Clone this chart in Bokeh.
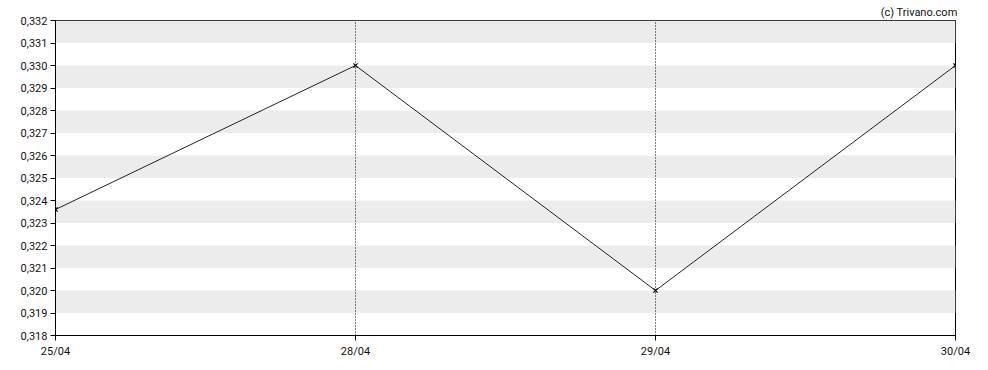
from bokeh.plotting import figure
from bokeh.models import FixedTicker, CustomJSTickFormatter
from bokeh.embed import file_html
from bokeh.resources import INLINE

dates = ["25/04", "28/04", "29/04", "30/04"]
prices = [0.3236, 0.330, 0.320, 0.330]
y_ticks = [0.318, 0.319, 0.320, 0.321, 0.322, 0.323, 0.324, 0.325,
           0.326, 0.327, 0.328, 0.329, 0.330, 0.331, 0.332]

xs = list(range(len(dates)))

FONT = "Roboto"

p = figure(width=988, height=370, output_backend="svg", toolbar_location=None,
           x_range=(0, len(dates) - 1), y_range=(y_ticks[0], y_ticks[-1]),
           min_border_left=55, min_border_right=33, min_border_top=20, min_border_bottom=35,
           title="(c) Trivano.com")
p.title.align = "right"
p.title.text_font = FONT
p.title.text_font_size = "11px"
p.title.text_font_style = "normal"
p.title.text_color = "#111111"
p.title.standoff = 3
p.title.offset = -2

p.background_fill_color = "white"
p.border_fill_color = "white"
p.outline_line_color = "black"
p.outline_line_width = 1

# y grid as alternating bands
p.yaxis.ticker = FixedTicker(ticks=y_ticks)
p.ygrid.ticker = FixedTicker(ticks=y_ticks)
p.ygrid.grid_line_color = None
p.ygrid.band_fill_color = "#ececec"
p.ygrid.band_fill_alpha = 1.0
p.ygrid.level = "image"

p.xaxis.ticker = FixedTicker(ticks=xs)
p.xaxis.major_label_overrides = {i: d for i, d in zip(xs, dates)}
p.xgrid.ticker = FixedTicker(ticks=xs[1:-1])
p.xgrid.grid_line_color = "black"
p.xgrid.grid_line_dash = "1 2"
p.xgrid.grid_line_width = 1

p.yaxis.formatter = CustomJSTickFormatter(code="return tick.toFixed(3).replace('.', ',');")

for ax in (p.xaxis, p.yaxis):
    ax.axis_line_color = "black"
    ax.major_tick_line_color = "black"
    ax.major_tick_out = 5
    ax.major_tick_in = 0
    ax.minor_tick_line_color = None
    ax.major_label_text_font = FONT
    ax.major_label_text_font_size = "11px"
    ax.major_label_text_color = "#111111"
p.xaxis.major_label_standoff = 4
p.yaxis.major_label_standoff = 3

p.line(xs, prices, line_color="#222222", line_width=1)
p.scatter(xs, prices, marker="x", size=6, line_color="#111111", line_width=1.3)

open("out.html", "w").write(file_html(p, INLINE))
